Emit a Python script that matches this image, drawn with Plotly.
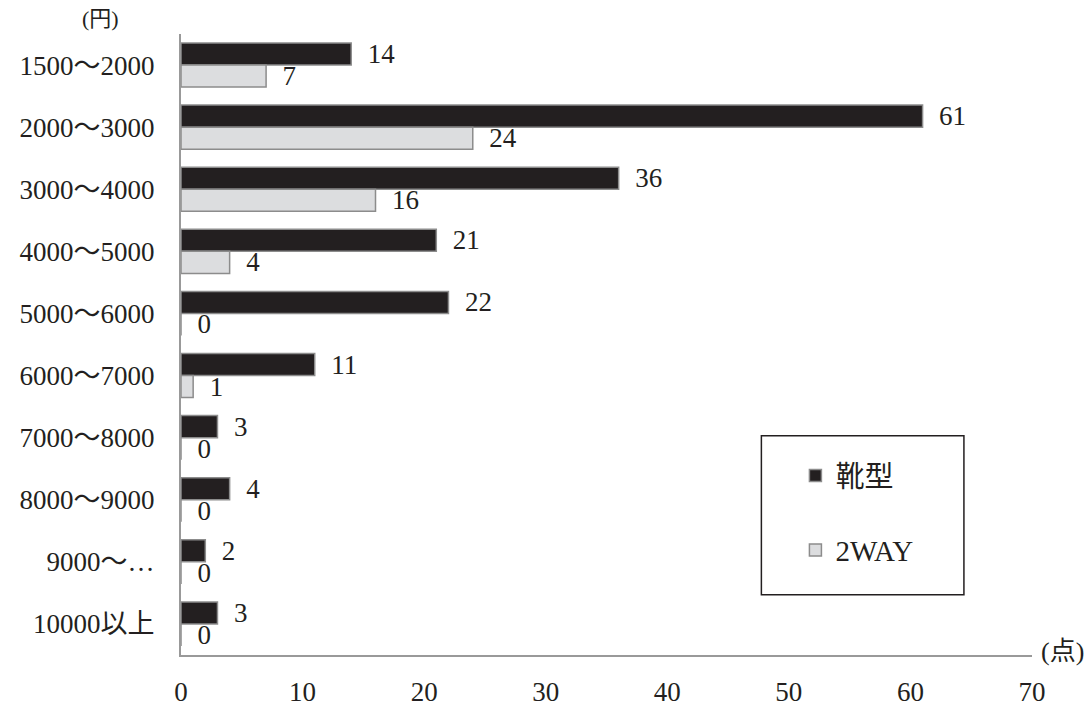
import plotly.graph_objects as go

categories = ["1500～2000", "2000～3000", "3000～4000", "4000～5000", "5000～6000",
              "6000～7000", "7000～8000", "8000～9000", "9000～…", "10000以上"]
boots = [14, 61, 36, 21, 22, 11, 3, 4, 2, 3]
twoway = [7, 24, 16, 4, 0, 1, 0, 0, 0, 0]
series_names = ["靴型", "2WAY"]
x_ticks = [0, 10, 20, 30, 40, 50, 60, 70]

FONT = "Liberation Serif, Noto Sans CJK JP, serif"
fig = go.Figure()
fig.add_trace(go.Bar(
    y=categories, x=boots, orientation="h", name=series_names[0], legendgroup="g0",
    marker=dict(color="#231f20", line=dict(color="#8c8c8c", width=1.5)),
    text=[f"  {v}" for v in boots], textposition="outside", cliponaxis=False,
    constraintext="none",
    textfont=dict(family=FONT, size=27, color="#231f20"),
))
fig.add_trace(go.Bar(
    y=categories, x=twoway, orientation="h", name=series_names[1], legendgroup="g1",
    marker=dict(color="#dcdddf", line=dict(color="#8c8c8c", width=1.5)),
    text=[f"  {v}" for v in twoway], textposition="outside", cliponaxis=False,
    constraintext="none",
    textfont=dict(family=FONT, size=27, color="#231f20"),
))

fig.update_layout(
    width=1087, height=706,
    margin=dict(l=181, r=55, t=34, b=51, autoexpand=False),
    paper_bgcolor="white", plot_bgcolor="white",
    barmode="group", bargap=0.29, bargroupgap=0,
    font=dict(family=FONT, size=27, color="#231f20"),
    showlegend=True,
    legend=dict(x=0.722, y=0.33, xanchor="left", yanchor="top",
                font=dict(family=FONT, size=29, color="#231f20"),
                tracegroupgap=34, traceorder="grouped",
                bgcolor="rgba(0,0,0,0)"),
    xaxis=dict(range=[0, 70], tickvals=x_ticks, showgrid=False, zeroline=False,
               showline=True, linecolor="#999999", linewidth=2,
               ticks="", ticklabelstandoff=12,
               tickfont=dict(family=FONT, size=27, color="#231f20")),
    yaxis=dict(autorange="reversed", showgrid=False, zeroline=False,
               showline=True, linecolor="#999999", linewidth=2,
               ticks="", ticklabelstandoff=19,
               tickfont=dict(family=FONT, size=27, color="#231f20")),
    shapes=[dict(type="rect", xref="paper", yref="paper",
                 x0=0.682, x1=0.92, y0=0.097, y1=0.353,
                 line=dict(color="#231f20", width=1.5))],
    annotations=[
        dict(text="(円)", xref="paper", yref="paper", x=-0.095, y=1.0, yshift=16,
             xanchor="center", yanchor="middle", showarrow=False,
             font=dict(family=FONT, size=22, color="#231f20")),
        dict(text="(点)", xref="paper", yref="paper", x=1.0, y=0, xshift=7, yshift=4,
             xanchor="left", yanchor="middle", showarrow=False,
             font=dict(family=FONT, size=26, color="#231f20")),
    ],
)

fig.write_html("out.html")
